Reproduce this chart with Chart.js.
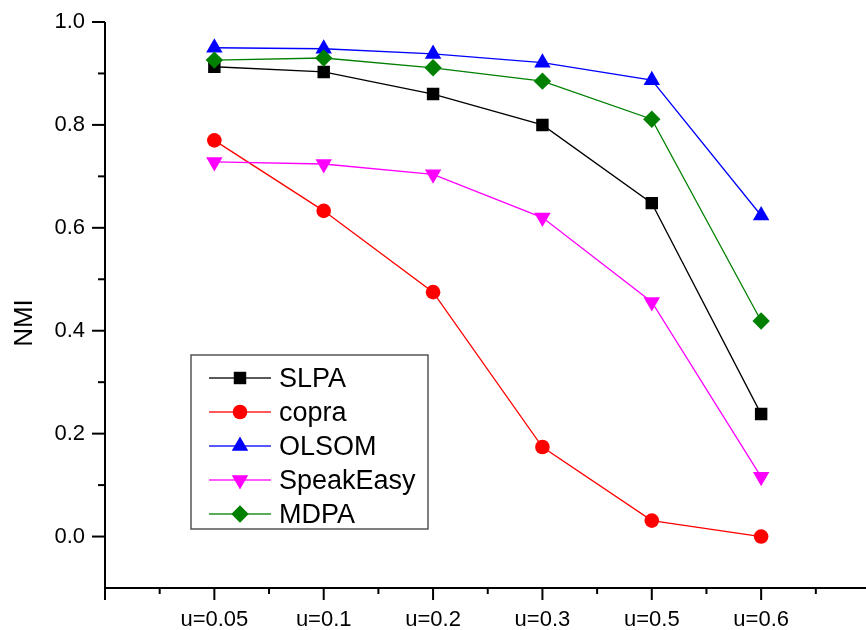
<!DOCTYPE html>
<html>
<head>
<meta charset="utf-8">
<script src="https://cdn.jsdelivr.net/npm/chart.js@4.4.0/dist/chart.umd.min.js"></script>
<style>
html, body { margin:0; padding:0; background:#fff; overflow:hidden; }
canvas { display:block; }
</style>
</head>
<body>
<canvas id="nmiChart" width="880" height="630"></canvas>
<script>
const categories = ['u=0.05', 'u=0.1', 'u=0.2', 'u=0.3', 'u=0.5', 'u=0.6'];
const slpa      = [0.913, 0.903, 0.860, 0.800, 0.648, 0.238];
const copra     = [0.770, 0.633, 0.475, 0.174, 0.031, 0.000];
const olsom     = [0.950, 0.948, 0.938, 0.921, 0.887, 0.624];
const speakEasy = [0.728, 0.724, 0.704, 0.620, 0.456, 0.116];
const mdpa      = [0.926, 0.930, 0.911, 0.885, 0.811, 0.419];
const yTickLabels = ['0.0', '0.2', '0.4', '0.6', '0.8', '1.0'];
const yMinorTicks = [0.1, 0.3, 0.5, 0.7, 0.9];
const xMinorTicks = [0.5, 1.5, 2.5, 3.5, 4.5, 5.5, 6.5];

const FONT = '"Liberation Sans", Arial, sans-serif';

function series(label, values, color, style, radius, rotation, order) {
    return {
        label: label,
        data: values.map((v, i) => ({ x: i + 1, y: v })),
        borderColor: color,
        backgroundColor: color,
        borderWidth: 1.3,
        pointStyle: style,
        pointRadius: radius,
        pointRotation: rotation,
        pointBorderWidth: 0,
        pointBackgroundColor: color,
        order: order
    };
}

const datasets = [
    series('SLPA', slpa, '#000000', 'rect', 8.8, 0, 4),
    series('copra', copra, '#ff0000', 'circle', 7.3, 0, 3),
    series('OLSOM', olsom, '#0000ff', 'triangle', 9.5, 0, 2),
    series('SpeakEasy', speakEasy, '#ff00ff', 'triangle', 9.5, 180, 1),
    series('MDPA', mdpa, '#008000', 'rectRot', 8.7, 0, 0)
];

function marker(ctx, style, x, y, r, rot) {
    ctx.beginPath();
    if (style === 'circle') {
        ctx.arc(x, y, r, 0, Math.PI * 2);
    } else if (style === 'rect') {
        const s = r * Math.SQRT1_2;
        ctx.rect(x - s, y - s, 2 * s, 2 * s);
    } else if (style === 'rectRot') {
        ctx.moveTo(x, y - r); ctx.lineTo(x + r, y); ctx.lineTo(x, y + r); ctx.lineTo(x - r, y);
        ctx.closePath();
    } else {
        let a = rot * Math.PI / 180;
        ctx.moveTo(x + Math.sin(a) * r, y - Math.cos(a) * r);
        for (let k = 0; k < 2; k++) {
            a += 2 * Math.PI / 3;
            ctx.lineTo(x + Math.sin(a) * r, y - Math.cos(a) * r);
        }
        ctx.closePath();
    }
    ctx.fill();
}

const originAxes = {
    id: 'originAxes',
    afterDatasetsDraw(chart) {
        const { ctx, chartArea: a, scales: { x, y } } = chart;
        ctx.save();
        ctx.strokeStyle = '#000';
        ctx.fillStyle = '#000';
        ctx.lineWidth = 2;

        // axis lines
        ctx.beginPath();
        ctx.moveTo(a.left, a.top);
        ctx.lineTo(a.left, a.bottom);
        ctx.lineTo(a.right + 10, a.bottom);
        ctx.stroke();

        // y ticks
        ctx.font = '22px ' + FONT;
        ctx.textAlign = 'right';
        ctx.textBaseline = 'middle';
        yTickLabels.forEach(t => {
            const py = y.getPixelForValue(parseFloat(t));
            ctx.beginPath(); ctx.moveTo(a.left, py); ctx.lineTo(a.left - 13, py); ctx.stroke();
            ctx.fillText(t, a.left - 20, py);
        });
        yMinorTicks.forEach(v => {
            const py = y.getPixelForValue(v);
            ctx.beginPath(); ctx.moveTo(a.left, py); ctx.lineTo(a.left - 7, py); ctx.stroke();
        });

        // x ticks
        ctx.textAlign = 'center';
        ctx.textBaseline = 'alphabetic';
        const major = [0].concat(categories.map((c, i) => i + 1), [7]);
        major.forEach(v => {
            const px = x.getPixelForValue(v);
            ctx.beginPath(); ctx.moveTo(px, a.bottom); ctx.lineTo(px, a.bottom + 12); ctx.stroke();
        });
        categories.forEach((c, i) => {
            ctx.fillText(c, x.getPixelForValue(i + 1), a.bottom + 38);
        });
        xMinorTicks.forEach(v => {
            const px = x.getPixelForValue(v);
            ctx.beginPath(); ctx.moveTo(px, a.bottom); ctx.lineTo(px, a.bottom + 6); ctx.stroke();
        });

        // y title
        ctx.save();
        ctx.translate(25, 323);
        ctx.rotate(-Math.PI / 2);
        ctx.font = '26px ' + FONT;
        ctx.textAlign = 'center';
        ctx.textBaseline = 'middle';
        ctx.fillText('NMI', 0, 0);
        ctx.restore();

        // legend box
        ctx.fillStyle = '#fff';
        ctx.fillRect(191, 355, 237, 174);
        ctx.lineWidth = 1.5;
        ctx.strokeStyle = '#555';
        ctx.strokeRect(191, 355, 237, 174);
        ctx.font = '27px ' + FONT;
        ctx.textAlign = 'left';
        ctx.textBaseline = 'alphabetic';
        chart.data.datasets.forEach((ds, i) => {
            const cy = 378 + i * 34;
            ctx.strokeStyle = ds.borderColor;
            ctx.globalAlpha = 0.65;
            ctx.lineWidth = 1.8;
            ctx.beginPath(); ctx.moveTo(209, cy); ctx.lineTo(271, cy); ctx.stroke();
            ctx.globalAlpha = 1;
            ctx.fillStyle = ds.borderColor;
            marker(ctx, ds.pointStyle, 240, cy, ds.pointRadius, ds.pointRotation);
            ctx.fillStyle = '#000';
            ctx.fillText(ds.label, 279, cy + 9);
        });
        ctx.restore();
    }
};

new Chart(document.getElementById('nmiChart').getContext('2d'), {
    type: 'line',
    data: { datasets: datasets },
    options: {
        responsive: false,
        animation: false,
        layout: { padding: { left: 105, top: 22, right: 5, bottom: 42 } },
        plugins: { legend: { display: false }, tooltip: { enabled: false } },
        scales: {
            x: { type: 'linear', min: 0, max: 7, display: false },
            y: { type: 'linear', min: -0.1, max: 1.0, display: false }
        }
    },
    plugins: [originAxes]
});
</script>
</body>
</html>
